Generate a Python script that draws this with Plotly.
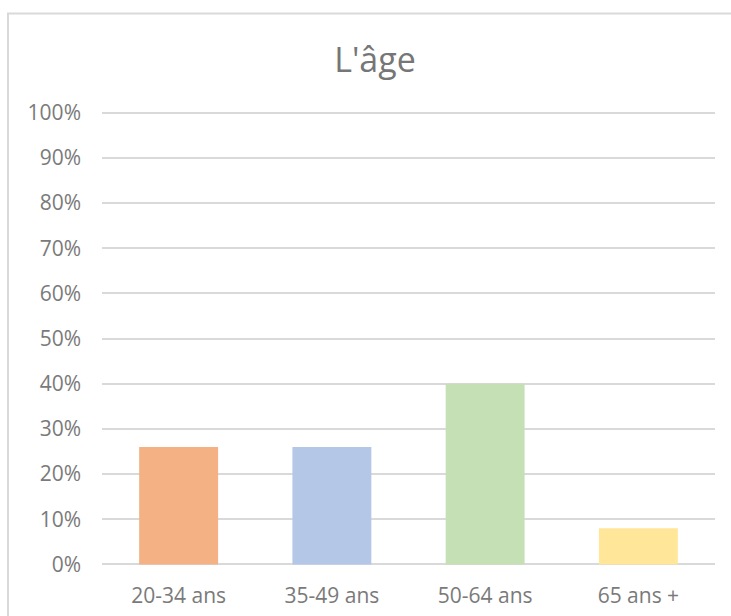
import plotly.graph_objects as go

categories = ["20-34 ans", "35-49 ans", "50-64 ans", "65 ans +"]
values = [0.26, 0.26, 0.40, 0.08]
colors = ["#F4B183", "#B4C7E7", "#C5E0B4", "#FFE699"]
y_ticks = [i / 10 for i in range(11)]
y_tick_labels = [f"{i * 10}%" for i in range(11)]

W, H = 731, 616
Y_TOP, Y_ZERO = 113, 564          # pixel rows of 100% and 0%
L, R = 102, 16
eps = 0.008
unit = Y_ZERO - Y_TOP              # pixels per 1.0
T = Y_TOP - eps * unit
B = H - Y_ZERO - eps * unit
pw = W - L - R
ph = H - T - B

def px_x(p):
    return (p - L) / pw

def px_y(p):
    return (H - B - p) / ph

fig = go.Figure()
fig.add_trace(go.Bar(
    x=categories, y=values, marker=dict(color=colors, line=dict(width=0)),
    hoverinfo="skip",
))

fig.update_layout(
    width=W, height=H,
    margin=dict(l=L, r=R, t=T, b=B, autoexpand=False),
    paper_bgcolor="white", plot_bgcolor="white",
    bargap=0.485,
    showlegend=False,
    font=dict(family="Open Sans", color="#7a7a7a", size=21),
    title=dict(text="L'âge", x=375 / W, xanchor="center", xref="container",
               y=1 - 60 / H, yanchor="middle", yref="container",
               font=dict(family="Open Sans", size=34, color="#767676")),
    xaxis=dict(showgrid=False, showline=False, zeroline=False, ticks="",
               automargin=False,
               ticklabelstandoff=13, tickfont=dict(size=21, color="#7a7a7a")),
    yaxis=dict(range=[-eps, 1 + eps], tickvals=y_ticks, ticktext=y_tick_labels,
               showgrid=True, gridcolor="#d9d9d9", gridwidth=1.5,
               zeroline=False, showline=False, ticks="", automargin=False,
               ticklabelstandoff=20, tickfont=dict(size=21, color="#7a7a7a")),
    shapes=[dict(type="rect", xref="paper", yref="paper",
                 x0=px_x(8), x1=px_x(780), y0=px_y(660), y1=px_y(14),
                 line=dict(color="#d9d9d9", width=2), fillcolor="rgba(0,0,0,0)",
                 layer="below")],
)

fig.write_html("out.html")
